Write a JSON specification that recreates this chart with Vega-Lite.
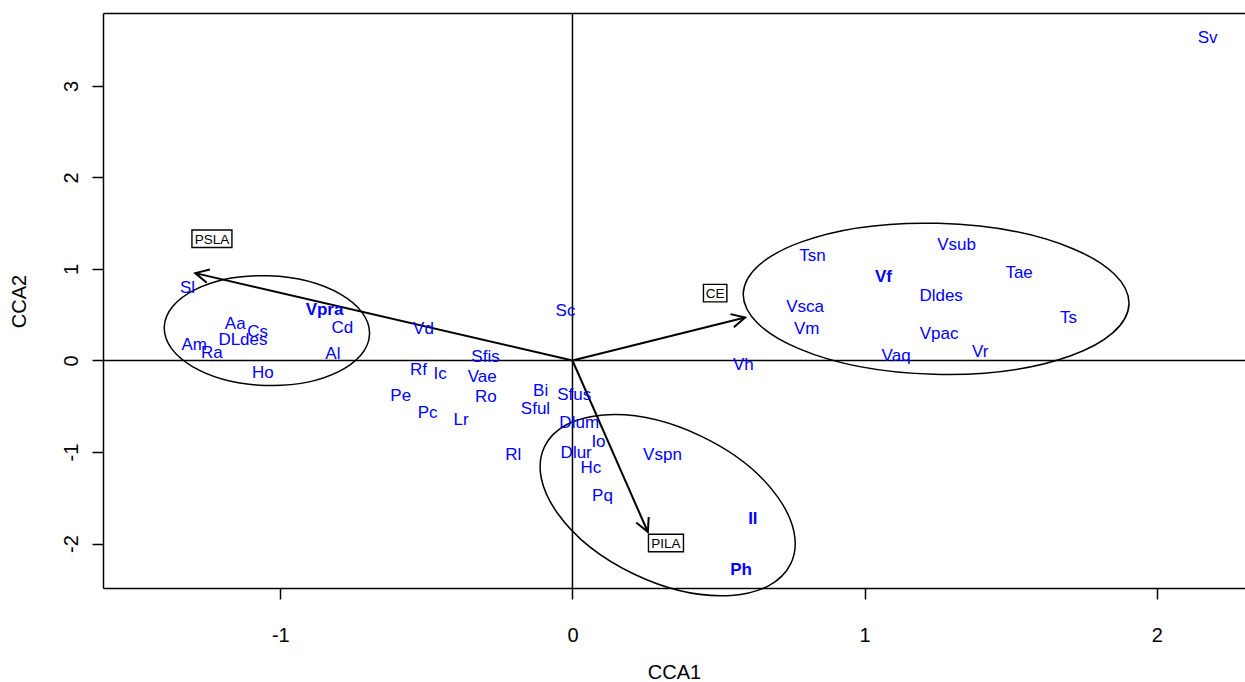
{
  "$schema": "https://vega.github.io/schema/vega-lite/v6.json",
  "width": 1142,
  "height": 575,
  "autosize": {"type": "none"},
  "padding": {"left": 103, "top": 13, "right": 0, "bottom": 94},
  "background": "white",
  "config": {
    "view": {"stroke": null},
    "font": "Liberation Sans",
    "axis": {
      "grid": false,
      "domainColor": "black",
      "domainWidth": 1.5,
      "tickColor": "black",
      "tickWidth": 1.5,
      "tickSize": 11,
      "labelColor": "black",
      "labelFont": "Liberation Sans",
      "labelFontSize": 20,
      "titleFont": "Liberation Sans",
      "titleFontSize": 20,
      "titleFontWeight": "normal",
      "titleColor": "black"
    }
  },
  "datasets": {
    "species": [
      {"sp": "Sl", "x": -1.3176, "y": 0.808, "bold": false},
      {"sp": "Vpra", "x": -0.8487, "y": 0.561, "bold": true},
      {"sp": "Aa", "x": -1.1544, "y": 0.408, "bold": false},
      {"sp": "Cs", "x": -1.078, "y": 0.317, "bold": false},
      {"sp": "DLdes", "x": -1.128, "y": 0.237, "bold": false},
      {"sp": "Cd", "x": -0.788, "y": 0.365, "bold": false},
      {"sp": "Am", "x": -1.2947, "y": 0.182, "bold": false},
      {"sp": "Ra", "x": -1.2348, "y": 0.0895, "bold": false},
      {"sp": "Al", "x": -0.82, "y": 0.079, "bold": false},
      {"sp": "Ho", "x": -1.06, "y": -0.123, "bold": false},
      {"sp": "Vd", "x": -0.51, "y": 0.357, "bold": false},
      {"sp": "Sc", "x": -0.024, "y": 0.554, "bold": false},
      {"sp": "Sfis", "x": -0.2977, "y": 0.046, "bold": false},
      {"sp": "Rf", "x": -0.527, "y": -0.091, "bold": false},
      {"sp": "Ic", "x": -0.4528, "y": -0.138, "bold": false},
      {"sp": "Vae", "x": -0.309, "y": -0.173, "bold": false},
      {"sp": "Pe", "x": -0.588, "y": -0.378, "bold": false},
      {"sp": "Ro", "x": -0.2964, "y": -0.391, "bold": false},
      {"sp": "Bi", "x": -0.109, "y": -0.325, "bold": false},
      {"sp": "Sfus", "x": 0.006, "y": -0.364, "bold": false},
      {"sp": "Sful", "x": -0.1266, "y": -0.517, "bold": false},
      {"sp": "Pc", "x": -0.4956, "y": -0.563, "bold": false},
      {"sp": "Lr", "x": -0.381, "y": -0.64, "bold": false},
      {"sp": "Dlum", "x": 0.023, "y": -0.673, "bold": false},
      {"sp": "Io", "x": 0.089, "y": -0.885, "bold": false},
      {"sp": "Rl", "x": -0.203, "y": -1.019, "bold": false},
      {"sp": "Dlur", "x": 0.0127, "y": -1.0, "bold": false},
      {"sp": "Hc", "x": 0.063, "y": -1.166, "bold": false},
      {"sp": "Vspn", "x": 0.308, "y": -1.019, "bold": false},
      {"sp": "Pq", "x": 0.1027, "y": -1.472, "bold": false},
      {"sp": "Il", "x": 0.6174, "y": -1.723, "bold": true},
      {"sp": "Ph", "x": 0.5773, "y": -2.278, "bold": true},
      {"sp": "Tsn", "x": 0.8214, "y": 1.154, "bold": false},
      {"sp": "Vsub", "x": 1.3149, "y": 1.274, "bold": false},
      {"sp": "Vf", "x": 1.0643, "y": 0.9195, "bold": true},
      {"sp": "Tae", "x": 1.5288, "y": 0.9687, "bold": false},
      {"sp": "Dldes", "x": 1.2618, "y": 0.712, "bold": false},
      {"sp": "Vsca", "x": 0.7964, "y": 0.592, "bold": false},
      {"sp": "Vm", "x": 0.8015, "y": 0.354, "bold": false},
      {"sp": "Ts", "x": 1.698, "y": 0.474, "bold": false},
      {"sp": "Vpac", "x": 1.255, "y": 0.299, "bold": false},
      {"sp": "Vr", "x": 1.3953, "y": 0.106, "bold": false},
      {"sp": "Vaq", "x": 1.1078, "y": 0.055, "bold": false},
      {"sp": "Vh", "x": 0.585, "y": -0.0415, "bold": false},
      {"sp": "Sv", "x": 2.174, "y": 3.538, "bold": false}
    ],
    "arrows": [
      {"var": "PSLA", "x": -1.2912, "y": 0.9545, "angle": 193.0, "lx": -1.2341, "ly": 1.331},
      {"var": "CE", "x": 0.591, "y": 0.4696, "angle": 346.0, "lx": 0.4884, "ly": 0.736},
      {"var": "PILA", "x": 0.258, "y": -1.874, "angle": 66.3, "lx": 0.32, "ly": -1.994}
    ],
    "ellipses": [
      {"group": "E1", "x": -1.046, "y": 0.3265},
      {"group": "E2", "x": 1.2447, "y": 0.674},
      {"group": "E3", "x": 0.3258, "y": -1.581}
    ]
  },
  "layer": [
    {
      "data": {"values": [{}]},
      "mark": {"type": "rule", "stroke": "black", "strokeWidth": 1.5},
      "encoding": {"y": {"datum": 0, "type": "quantitative"}}
    },
    {
      "data": {"values": [{}]},
      "mark": {"type": "rule", "stroke": "black", "strokeWidth": 1.5},
      "encoding": {
        "x": {"datum": 0, "type": "quantitative",
              "axis": {"orient": "top", "labels": false, "ticks": false, "title": null, "domain": true}}
      }
    },
    {
      "data": {"name": "ellipses"},
      "mark": {"type": "point", "filled": false, "stroke": "black", "strokeWidth": 1.5, "size": 40000, "opacity": 1},
      "encoding": {
        "x": {"field": "x", "type": "quantitative", "axis": null},
        "y": {"field": "y", "type": "quantitative"},
        "shape": {
          "field": "group", "type": "nominal", "legend": null,
          "scale": {
            "domain": ["E1", "E2", "E3"],
            "range": [
              "M1.0264,0.0358A1.027,0.548,2,0,1,-1.0264,-0.0358A1.027,0.548,2,0,1,1.0264,0.0358Z",
              "M1.9293,0.0505A1.93,0.76,1.5,0,1,-1.9293,-0.0505A1.93,0.76,1.5,0,1,1.9293,0.0505Z",
              "M1.2323,0.5825A1.363,0.767,25.3,0,1,-1.2323,-0.5825A1.363,0.767,25.3,0,1,1.2323,0.5825Z"
            ]
          }
        }
      }
    },
    {
      "data": {"name": "arrows"},
      "mark": {"type": "rule", "stroke": "black", "strokeWidth": 2},
      "encoding": {
        "x": {"field": "x", "type": "quantitative", "axis": null},
        "y": {"field": "y", "type": "quantitative"},
        "x2": {"datum": 0},
        "y2": {"datum": 0}
      }
    },
    {
      "data": {"name": "arrows"},
      "mark": {"type": "point", "filled": false, "stroke": "black", "strokeWidth": 2, "size": 900, "opacity": 1,
               "shape": "M-0.891,-0.454L0,0L-0.891,0.454"},
      "encoding": {
        "x": {"field": "x", "type": "quantitative", "axis": null},
        "y": {"field": "y", "type": "quantitative"},
        "angle": {"field": "angle", "type": "quantitative", "scale": null}
      }
    },
    {
      "data": {"name": "arrows"},
      "mark": {"type": "point", "filled": true, "fill": "white", "stroke": "black", "strokeWidth": 1.4, "size": 400, "opacity": 1},
      "encoding": {
        "x": {"field": "lx", "type": "quantitative", "axis": null},
        "y": {"field": "ly", "type": "quantitative"},
        "shape": {
          "field": "var", "type": "nominal", "legend": null,
          "scale": {
            "domain": ["PSLA", "CE", "PILA"],
            "range": [
              "M-2,-0.875L2,-0.875L2,0.875L-2,0.875Z",
              "M-1.17,-0.875L1.17,-0.875L1.17,0.875L-1.17,0.875Z",
              "M-1.75,-0.875L1.75,-0.875L1.75,0.875L-1.75,0.875Z"
            ]
          }
        }
      }
    },
    {
      "data": {"name": "arrows"},
      "mark": {"type": "text", "font": "Liberation Sans", "fontSize": 13.5, "fill": "black", "align": "center", "baseline": "middle", "dy": 1},
      "encoding": {
        "x": {"field": "lx", "type": "quantitative", "axis": null},
        "y": {"field": "ly", "type": "quantitative"},
        "text": {"field": "var"}
      }
    },
    {
      "data": {"name": "species"},
      "transform": [{"filter": "!datum.bold"}],
      "mark": {"type": "text", "font": "Liberation Sans", "fontSize": 17, "fill": "#0000FF", "align": "center", "baseline": "middle", "dy": 1},
      "encoding": {
        "x": {"field": "x", "type": "quantitative",
              "scale": {"domain": [-1.607, 2.302], "nice": false, "zero": false},
              "axis": {"title": "CCA1", "values": [-1, 0, 1, 2], "labelExpr": "'' + datum.value",
                       "labelPadding": 26, "labelBaseline": "top",
                       "titleX": 571, "titleY": 84, "titleBaseline": "middle", "titleAlign": "center"}},
        "y": {"field": "y", "type": "quantitative",
              "scale": {"domain": [-2.486, 3.797], "nice": false, "zero": false},
              "axis": {"title": "CCA2", "values": [-2, -1, 0, 1, 2, 3], "labelExpr": "'' + datum.value",
                       "labelAngle": 270, "labelAlign": "center", "labelBaseline": "bottom", "labelPadding": 11,
                       "titleAngle": 270, "titleX": -84, "titleY": 288, "titleBaseline": "middle", "titleAlign": "center"}},
        "text": {"field": "sp"}
      }
    },
    {
      "data": {"name": "species"},
      "transform": [{"filter": "datum.bold"}],
      "mark": {"type": "text", "font": "Liberation Sans", "fontSize": 17, "fontWeight": "bold", "fill": "#0000FF", "align": "center", "baseline": "middle", "dy": 1},
      "encoding": {
        "x": {"field": "x", "type": "quantitative", "axis": null},
        "y": {"field": "y", "type": "quantitative"},
        "text": {"field": "sp"}
      }
    }
  ],
  "resolve": {"scale": {"shape": "independent"}, "axis": {"x": "independent"}}
}
